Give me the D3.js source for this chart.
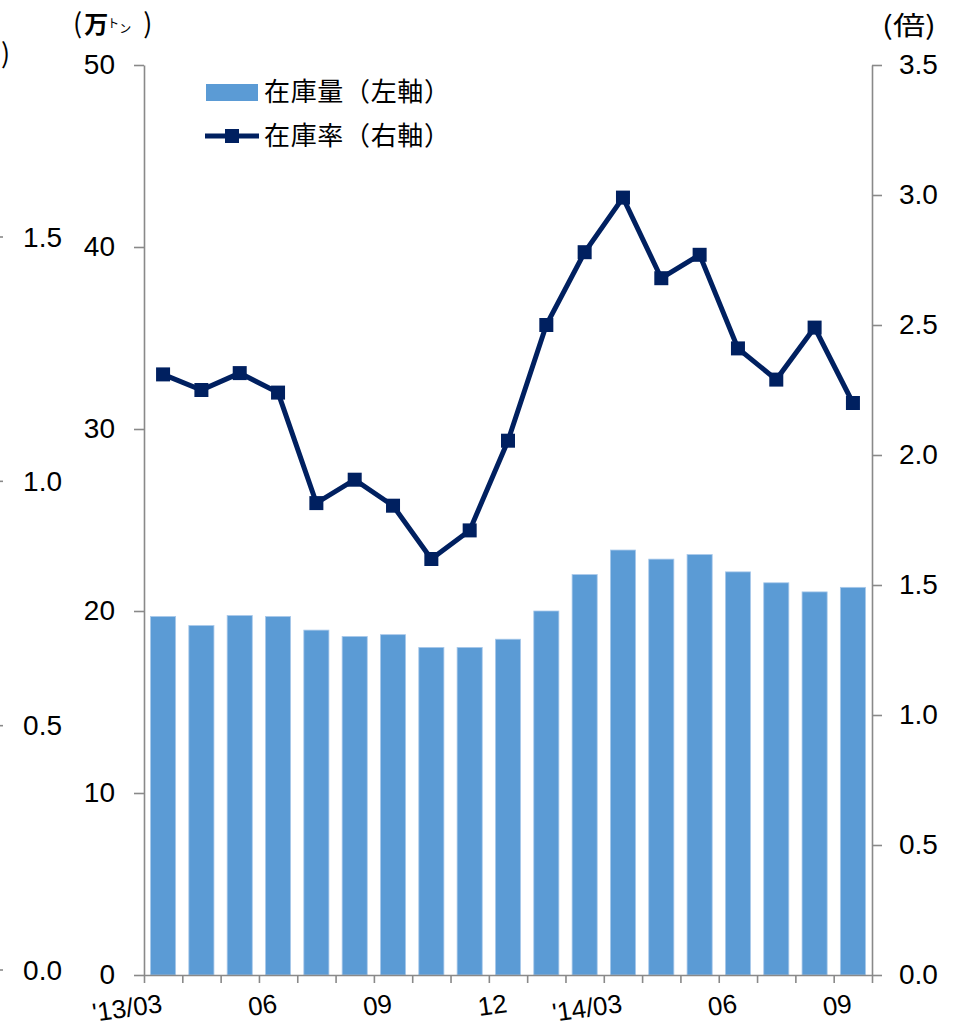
<!DOCTYPE html>
<html>
<head>
<meta charset="utf-8">
<script src="https://cdn.jsdelivr.net/npm/d3@7"></script>
<style>
  body { margin: 0; background: #fff; }
  text { fill: #000; }
</style>
</head>
<body>
<svg id="chart" width="961" height="1030"></svg>
<script>
// Monthly inventory: stock volume (万トン, left axis) and stock ratio (倍, right axis)
const categories = [
  "2013/03","2013/04","2013/05","2013/06","2013/07","2013/08","2013/09","2013/10",
  "2013/11","2013/12","2014/01","2014/02","2014/03","2014/04","2014/05","2014/06",
  "2014/07","2014/08","2014/09"
];
const tickLabels = [
  "'13/03","","","06","","","09","","","12","","","'14/03","","","06","","","09"
];
const stockVolume = [
  19.7, 19.2, 19.75, 19.7, 18.95, 18.6, 18.7, 18.0, 18.0, 18.45,
  20.0, 22.0, 23.35, 22.85, 23.1, 22.15, 21.55, 21.05, 21.3
];
const stockRatio = [
  2.31, 2.25, 2.315, 2.24, 1.815, 1.905, 1.805, 1.60, 1.71, 2.055,
  2.50, 2.78, 2.99, 2.68, 2.77, 2.41, 2.29, 2.49, 2.20
];
const leftTicks = [0, 10, 20, 30, 40, 50];
const rightTicks = [0, 0.5, 1.0, 1.5, 2.0, 2.5, 3.0, 3.5];
// partial axis of the neighbouring panel on the far left
const sideTicks = [0, 0.5, 1.0, 1.5];

const legendItems = ["在庫量（左軸）", "在庫率（右軸）"];

const barColor = "#5b9bd5";
const lineColor = "#002060";
const axisColor = "#898989";
const numFont = "'Liberation Sans', Arial, sans-serif";
const jpFont = "'Noto Sans CJK JP', sans-serif";

const plot = { left: 144, right: 872, top: 65, bottom: 975 };

const svg = d3.select("#chart");

const x = d3.scaleBand()
  .domain(categories)
  .range([plot.left, plot.right])
  .paddingInner(0.345)
  .paddingOuter(0.17);
const xEdge = d3.scaleLinear()
  .domain([0, categories.length])
  .range([plot.left, plot.right]);
const yLeft = d3.scaleLinear().domain([0, 50]).range([plot.bottom, plot.top]);
const yRight = d3.scaleLinear().domain([0, 3.5]).range([plot.bottom, plot.top]);
const ySide = d3.scaleLinear().domain([0, 1.5]).range([970, 237]);

// bars
svg.append("g")
  .selectAll("rect")
  .data(stockVolume)
  .join("rect")
  .attr("x", (d, i) => x(categories[i]))
  .attr("y", d => yLeft(d))
  .attr("width", x.bandwidth())
  .attr("height", d => yLeft(0) - yLeft(d))
  .attr("fill", barColor)
  .attr("stroke", "#a9c9ea")
  .attr("stroke-width", 0.8);

// axes
function styleAxis(g, fontSize) {
  g.select(".domain").attr("stroke", axisColor).attr("stroke-width", 1.6);
  g.selectAll(".tick line").attr("stroke", axisColor).attr("stroke-width", 1.6);
  g.selectAll(".tick text")
    .attr("font-family", numFont)
    .attr("font-size", fontSize)
    .attr("fill", "#000");
}

svg.append("g")
  .attr("transform", `translate(${plot.left},0)`)
  .call(d3.axisLeft(yLeft).tickValues(leftTicks).tickSize(10).tickSizeOuter(0).tickPadding(19))
  .call(g => styleAxis(g, 28));

svg.append("g")
  .attr("transform", `translate(${plot.right},0)`)
  .call(d3.axisRight(yRight).tickValues(rightTicks).tickFormat(d3.format(".1f"))
    .tickSize(10).tickSizeOuter(0).tickPadding(17))
  .call(g => styleAxis(g, 28));

svg.append("g")
  .attr("transform", `translate(0,${plot.bottom})`)
  .call(d3.axisBottom(xEdge).tickValues(d3.range(categories.length + 1))
    .tickFormat("").tickSize(8).tickSizeOuter(0))
  .call(g => styleAxis(g, 26));

// rotated month labels, right end at each band centre
svg.append("g")
  .selectAll("text")
  .data(categories.filter((c, i) => tickLabels[i] !== ""))
  .join("text")
  .attr("transform", c => `translate(${x(c) + x.bandwidth() / 2},${plot.bottom + 37}) rotate(-8)`)
  .attr("text-anchor", "end")
  .attr("font-family", numFont)
  .attr("font-size", 26)
  .text(c => tickLabels[categories.indexOf(c)]);

// ratio line
const line = d3.line()
  .x((d, i) => x(categories[i]) + x.bandwidth() / 2)
  .y(d => yRight(d));

svg.append("path")
  .datum(stockRatio)
  .attr("d", line)
  .attr("fill", "none")
  .attr("stroke", lineColor)
  .attr("stroke-width", 5)
  .attr("stroke-linejoin", "miter");

const mk = 14;
svg.append("g")
  .selectAll("rect")
  .data(stockRatio)
  .join("rect")
  .attr("x", (d, i) => x(categories[i]) + x.bandwidth() / 2 - mk / 2)
  .attr("y", d => yRight(d) - mk / 2)
  .attr("width", mk)
  .attr("height", mk)
  .attr("fill", lineColor);

// unit labels
const unitL = svg.append("text")
  .attr("x", 73).attr("y", 33)
  .attr("font-family", jpFont)
  .attr("font-size", 24);
unitL.append("tspan").attr("font-size", 27).text("(");
unitL.append("tspan").attr("font-weight", "bold").attr("dx", 2).text("万");
unitL.append("tspan").attr("font-size", 12).attr("dx", -1).attr("dy", -5).text("ト");
unitL.append("tspan").attr("font-size", 12).attr("dy", 5).text("ン");
unitL.append("tspan").attr("font-size", 27).attr("dx", 12).text(")");

svg.append("text")
  .attr("x", 882).attr("y", 35)
  .attr("font-family", jpFont)
  .attr("font-size", 26)
  .attr("textLength", 54)
  .attr("lengthAdjust", "spacingAndGlyphs")
  .text("(倍)");

// neighbouring panel remnants on the left edge
svg.append("text")
  .attr("x", 1).attr("y", 63)
  .attr("font-family", jpFont)
  .attr("font-size", 27)
  .text(")");

const side = svg.append("g");
side.selectAll("line")
  .data(sideTicks)
  .join("line")
  .attr("x1", 0).attr("x2", 3)
  .attr("y1", d => ySide(d)).attr("y2", d => ySide(d))
  .attr("stroke", axisColor).attr("stroke-width", 1.6);
side.selectAll("text")
  .data(sideTicks)
  .join("text")
  .attr("x", 62)
  .attr("y", d => ySide(d))
  .attr("dy", "0.35em")
  .attr("text-anchor", "end")
  .attr("font-family", numFont)
  .attr("font-size", 28)
  .text(d => d3.format(".1f")(d));

// legend
const legend = svg.append("g");
legend.append("rect")
  .attr("x", 206).attr("y", 84).attr("width", 52).attr("height", 17)
  .attr("fill", barColor);
legend.append("line")
  .attr("x1", 205).attr("x2", 259).attr("y1", 136).attr("y2", 136)
  .attr("stroke", lineColor).attr("stroke-width", 5);
legend.append("rect")
  .attr("x", 232 - mk / 2).attr("y", 136 - mk / 2).attr("width", mk).attr("height", mk)
  .attr("fill", lineColor);
legend.selectAll("text")
  .data(legendItems)
  .join("text")
  .attr("x", 264)
  .attr("y", (d, i) => 92 + i * 44)
  .attr("dy", "0.36em")
  .attr("font-family", jpFont)
  .attr("font-size", 26)
  .attr("textLength", 186)
  .attr("lengthAdjust", "spacing")
  .text(d => d);
</script>
</body>
</html>
